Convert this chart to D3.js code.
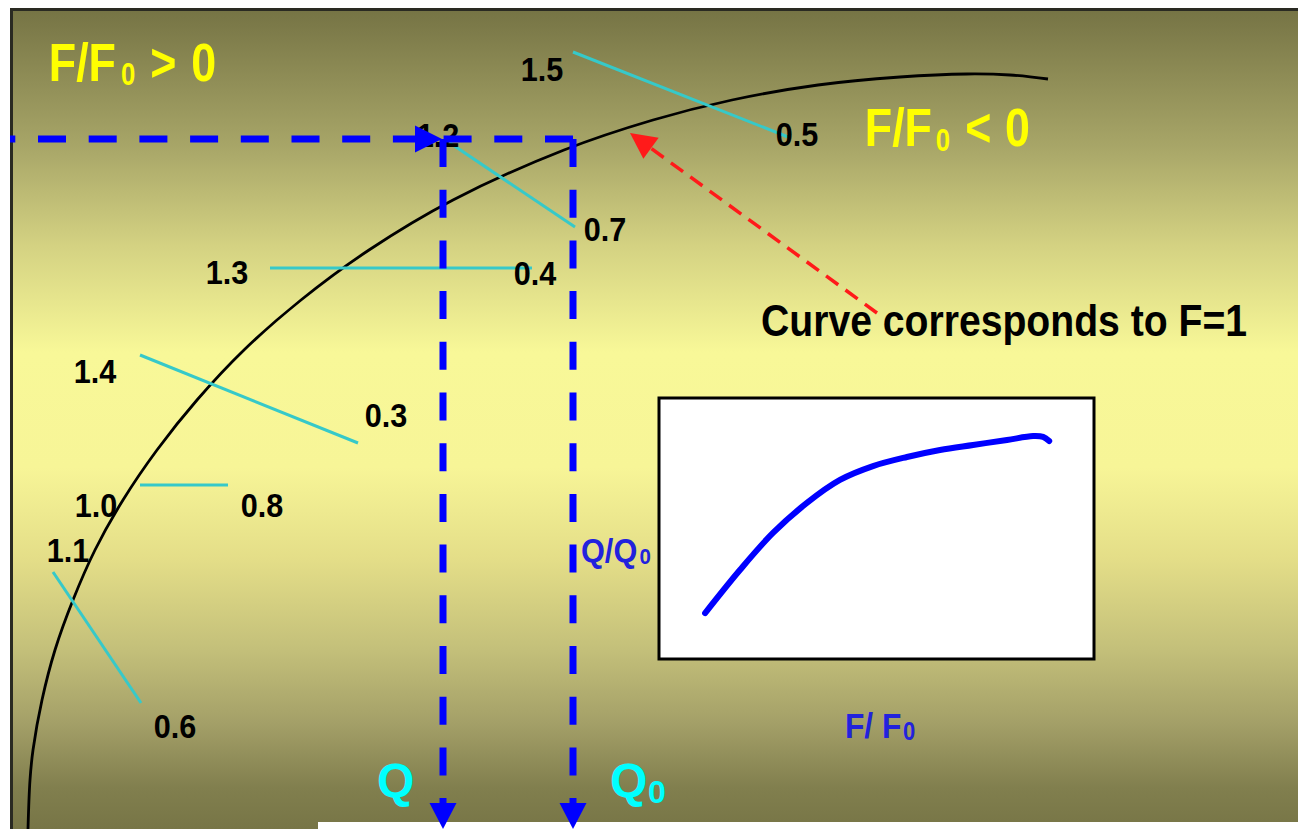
<!DOCTYPE html>
<html><head><meta charset="utf-8">
<script src="https://cdn.jsdelivr.net/npm/d3@7"></script>
<style>html,body{margin:0;padding:0;background:#fff;overflow:hidden}</style>
</head><body>
<svg id="chart" width="1298" height="829"></svg>
<script>
// ---------- data (x across, h = height above the bottom edge) ----------
const curveX = [28,30,33,42,55,73,95,123,157,197,244,301,369,453,564,653,732,818,900,967,1010,1048];
const curveH = [0,49,79,129,179,229,279,329,379,429,479,529,579,629,679,709,729,744,752,755,754,750];

const isoHighLabels = ["1.5","1.2","1.3","1.4","1.0","1.1"];
const isoLowLabels  = ["0.5","0.7","0.4","0.3","0.8","0.6"];
const isoStartX = [573,450,270,140,140,53];
const isoStartH = [777,686,561,474,344,257];
const isoEndX   = [788,575,532,358,228,141];
const isoEndH   = [692,602,561,386,344,126];
const highLabelX = [542,438,227,95,96,68];
const highLabelH = [748,682,545,446,312,267];
const lowLabelX  = [797,605,535,386,262,175];
const lowLabelH  = [683,588,544,402,312,91];

const flowQ = 443, flowQ0 = 573, headLevel = 690, panelLeft = 10;
const pointerFrom = [877,516], pointerTo = [630,696];

const insetF = [0.106,0.186,0.262,0.340,0.416,0.492,0.570,0.646,0.722,0.800,0.860,0.883,0.897];
const insetQ = [0.176,0.341,0.483,0.598,0.686,0.739,0.774,0.801,0.820,0.839,0.854,0.851,0.835];

// ---------- scales ----------
const W = 1298, H = 829;
const x = d3.scaleLinear().domain([0, 1298]).range([0, W]);
const y = d3.scaleLinear().domain([0, 829]).range([H, 0]);
const ix = d3.scaleLinear().domain([0, 1]).range([659, 1094]);
const iy = d3.scaleLinear().domain([0, 1]).range([659, 398]);

const svg = d3.select("#chart");
const FONT = "'Liberation Sans', Arial, Helvetica, sans-serif";

// gradient background
const defs = svg.append("defs");
const grad = defs.append("linearGradient").attr("id","bg").attr("x1",0).attr("y1",0).attr("x2",0).attr("y2",1);
[[0,"#757344"],[0.17,"#a8a668"],[0.29,"#d4d282"],[0.42,"#f8f898"],[0.56,"#f7f597"],[0.67,"#e4de88"],[0.78,"#c4c07a"],[0.87,"#a4a068"],[0.95,"#817f4e"],[1,"#777546"]]
  .forEach(s => grad.append("stop").attr("offset", s[0]).attr("stop-color", s[1]));

svg.append("rect").attr("x",10).attr("y",8).attr("width",W-10).attr("height",H-8).attr("fill","url(#bg)");
svg.append("line").attr("x1",10).attr("x2",W).attr("y1",9.5).attr("y2",9.5).attr("stroke","#2a2a22").attr("stroke-width",3);
svg.append("line").attr("x1",11.5).attr("x2",11.5).attr("y1",8).attr("y2",H).attr("stroke","#2a2a22").attr("stroke-width",3);

// text helper: one <text>, horizontally condensed by sx, pieces placed with tspans
function label(X, Y, sx, size, fill, parts, anchor) {
  const t = svg.append("text")
    .attr("transform", `translate(${X},${Y}) scale(${sx},1)`)
    .attr("font-family", FONT).attr("font-weight","bold").attr("font-size", size)
    .attr("fill", fill).attr("text-anchor", anchor || "start");
  parts.forEach(p => {
    const ts = t.append("tspan").attr("x", p.x || 0).attr("y", p.y || 0).text(p.t);
    if (p.size) ts.attr("font-size", p.size);
  });
  return t;
}

// black F=1 curve
const curvePts = curveX.map((v,i) => [v, curveH[i]]);
svg.append("path").datum(curvePts)
  .attr("d", d3.line().x(d => x(d[0])).y(d => y(d[1])).curve(d3.curveCatmullRom))
  .attr("fill","none").attr("stroke","#000").attr("stroke-width",2.8);

// cyan iso lines and their labels
isoHighLabels.forEach((lab, i) => {
  svg.append("line")
    .attr("x1", x(isoStartX[i])).attr("y1", y(isoStartH[i]))
    .attr("x2", x(isoEndX[i])).attr("y2", y(isoEndH[i]))
    .attr("stroke","#36c9c9").attr("stroke-width",3);
});
isoHighLabels.forEach((lab, i) => label(x(highLabelX[i]), y(highLabelH[i]), 0.9, 34, "#000", [{t: lab}], "middle"));
isoLowLabels.forEach((lab, i) => label(x(lowLabelX[i]), y(lowLabelH[i]), 0.9, 34, "#000", [{t: lab}], "middle"));

// blue dashed construction lines
const blue = "#0000ff";
const dash = "28,22.7";
svg.append("line").attr("x1", x(flowQ0)).attr("y1", y(headLevel)).attr("x2", x(panelLeft)).attr("y2", y(headLevel))
  .attr("stroke", blue).attr("stroke-width",7).attr("stroke-dasharray", dash);
[flowQ, flowQ0].forEach(q => {
  svg.append("line").attr("x1", x(q)).attr("y1", y(headLevel)).attr("x2", x(q)).attr("y2", y(0) - 23)
    .attr("stroke", blue).attr("stroke-width",7).attr("stroke-dasharray", dash);
});

// white strip at bottom
svg.append("rect").attr("x",318).attr("y",822).attr("width",W-318).attr("height",7).attr("fill","#fff");

// arrowheads
const hx = x(flowQ) - 1, hy = y(headLevel);
svg.append("path").attr("d", `M${hx},${hy} L${hx-27},${hy-13.5} L${hx-27},${hy+13.5} Z`).attr("fill", blue);
[flowQ, flowQ0].forEach(q => {
  const tx = x(q), ty = y(0);
  svg.append("path").attr("d", `M${tx},${ty} L${tx-13.5},${ty-26} L${tx+13.5},${ty-26} Z`).attr("fill", blue);
});

// red pointer
const a = [x(pointerFrom[0]), y(pointerFrom[1])], b = [x(pointerTo[0]), y(pointerTo[1])];
const len = Math.hypot(a[0]-b[0], a[1]-b[1]);
const ux = (a[0]-b[0])/len, uy = (a[1]-b[1])/len;
const bc = [b[0]+ux*26, b[1]+uy*26];
svg.append("line").attr("x1", a[0]).attr("y1", a[1]).attr("x2", bc[0]).attr("y2", bc[1])
  .attr("stroke","#ff1a1a").attr("stroke-width",3.5).attr("stroke-dasharray","15,9");
svg.append("path").attr("d", `M${b[0]},${b[1]} L${bc[0]-uy*13},${bc[1]+ux*13} L${bc[0]+uy*13},${bc[1]-ux*13} Z`).attr("fill","#ff1a1a");

// headings
const yel = "#ffff00";
label(48.8, 81, 0.83, 54, yel, [{t:"F/F"}, {t:"0", x:87, y:4, size:31}, {t:">", x:122.2}, {t:"0", x:171.6}]);
label(864.8, 146, 0.83, 54, yel, [{t:"F/F"}, {t:"0", x:85.5, y:5, size:31}, {t:"<", x:121}, {t:"0", x:168.9}]);

label(761, 336, 0.87, 45, "#000", [{t:"Curve corresponds to F=1"}]);

const cyan = "#00ffff";
label(377, 797, 1, 48, cyan, [{t:"Q"}]);
label(610, 797, 1, 48, cyan, [{t:"Q"}, {t:"0", x:38, y:6, size:32}]);

const lblBlue = "#2222dd";
label(581, 562, 0.93, 33, lblBlue, [{t:"Q/Q"}, {t:"0", x:63, y:2, size:22}]);

// inset
svg.append("rect").attr("x", ix(0)).attr("y", iy(1)).attr("width", ix(1)-ix(0)).attr("height", iy(0)-iy(1))
  .attr("fill","#fff").attr("stroke","#000").attr("stroke-width",3);
const insetPts = insetF.map((v,i) => [v, insetQ[i]]);
svg.append("path").datum(insetPts)
  .attr("d", d3.line().x(d => ix(d[0])).y(d => iy(d[1])).curve(d3.curveCatmullRom))
  .attr("fill","none").attr("stroke", blue).attr("stroke-width",6).attr("stroke-linecap","round");
label(845, 738, 0.88, 36, lblBlue, [{t:"F/ F"}, {t:"0", x:66, y:2, size:25}]);
</script>
</body></html>
